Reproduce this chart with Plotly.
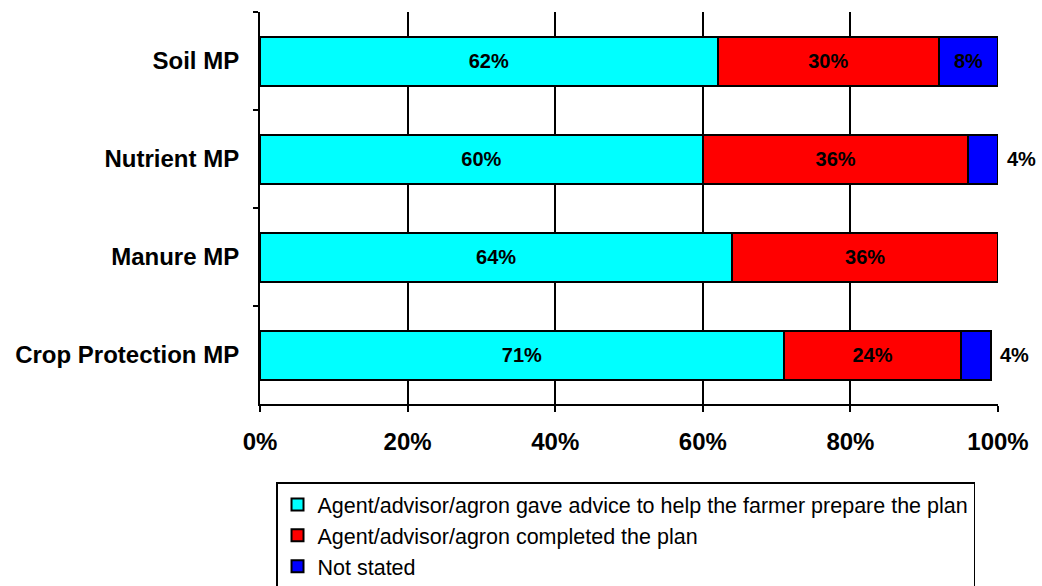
import plotly.graph_objects as go

categories = ["Soil MP", "Nutrient MP", "Manure MP", "Crop Protection MP"]
advice = [62, 60, 64, 71]
completed = [30, 36, 36, 24]
not_stated = [8, 4, 0, 4]
series_names = [
    "Agent/advisor/agron gave advice to help the farmer prepare the plan",
    "Agent/advisor/agron completed the plan",
    "Not stated",
]
colors = ["#00FFFF", "#FF0000", "#0000FF"]
tick_vals = [0, 20, 40, 60, 80, 100]
tick_text = ["0%", "20%", "40%", "60%", "80%", "100%"]

FONT = "Liberation Sans, Arial, sans-serif"
fig = go.Figure()

all_series = [advice, completed, not_stated]
for i, (vals, name, col) in enumerate(zip(all_series, series_names, colors)):
    texts = [f"{v}%" if v >= 5 else "" for v in vals]
    fig.add_trace(go.Bar(
        y=categories, x=vals, name=name, orientation="h",
        marker=dict(color=col, line=dict(color="black", width=2)),
        text=texts, textposition="inside", insidetextanchor="middle",
        textfont=dict(family=FONT, size=20, color="black", weight="bold"),
        legendgroup=f"g{i}", hoverinfo="x+y",
    ))

# small segments labelled just right of the bar end
for cat, a, c, n in zip(categories, advice, completed, not_stated):
    if 0 < n < 5:
        fig.add_annotation(
            x=a + c + n, y=cat, xref="x", yref="y", text=f"{n}%",
            showarrow=False, xanchor="left", xshift=7,
            font=dict(family=FONT, size=20, color="black", weight="bold"),
        )

fig.update_layout(
    barmode="stack", bargap=0.5,
    width=1042, height=600,
    margin=dict(l=260, r=44, t=12, b=186),
    plot_bgcolor="white", paper_bgcolor="white",
    font=dict(family=FONT, color="black"),
    legend=dict(
        x=0.0217, y=-0.2, xanchor="left", yanchor="top",
        bordercolor="black", borderwidth=1.5,
        font=dict(family=FONT, size=21.5, color="black"),
        traceorder="normal", tracegroupgap=5,
    ),
    showlegend=True,
)
fig.update_xaxes(
    range=[0, 100], tickvals=tick_vals, ticktext=tick_text,
    showgrid=True, gridcolor="black", gridwidth=2,
    showline=True, linecolor="black", linewidth=2,
    ticks="outside", ticklen=6, tickcolor="black", tickwidth=2,
    ticklabelstandoff=9,
    tickfont=dict(family=FONT, size=24, color="black", weight="bold"),
    zeroline=False, automargin=False,
)
fig.update_yaxes(
    categoryorder="array", categoryarray=categories, autorange="reversed",
    showline=True, linecolor="black", linewidth=2,
    ticks="outside", ticklen=5, tickcolor="black", tickwidth=2,
    tickson="boundaries", ticklabelstandoff=14,
    tickfont=dict(family=FONT, size=24, color="black", weight="bold"),
    showgrid=False, automargin=False,
)

# remove default page margin and stray line boxes so the page is exactly the figure
page_fix = (
    "document.body.style.margin='0';"
    "document.body.style.fontSize='0';"
    "document.body.style.lineHeight='0';"
    "document.body.style.overflow='hidden';"
    "document.documentElement.style.overflow='hidden';"
)
fig.write_html("out.html", config={"displayModeBar": False}, post_script=page_fix)
